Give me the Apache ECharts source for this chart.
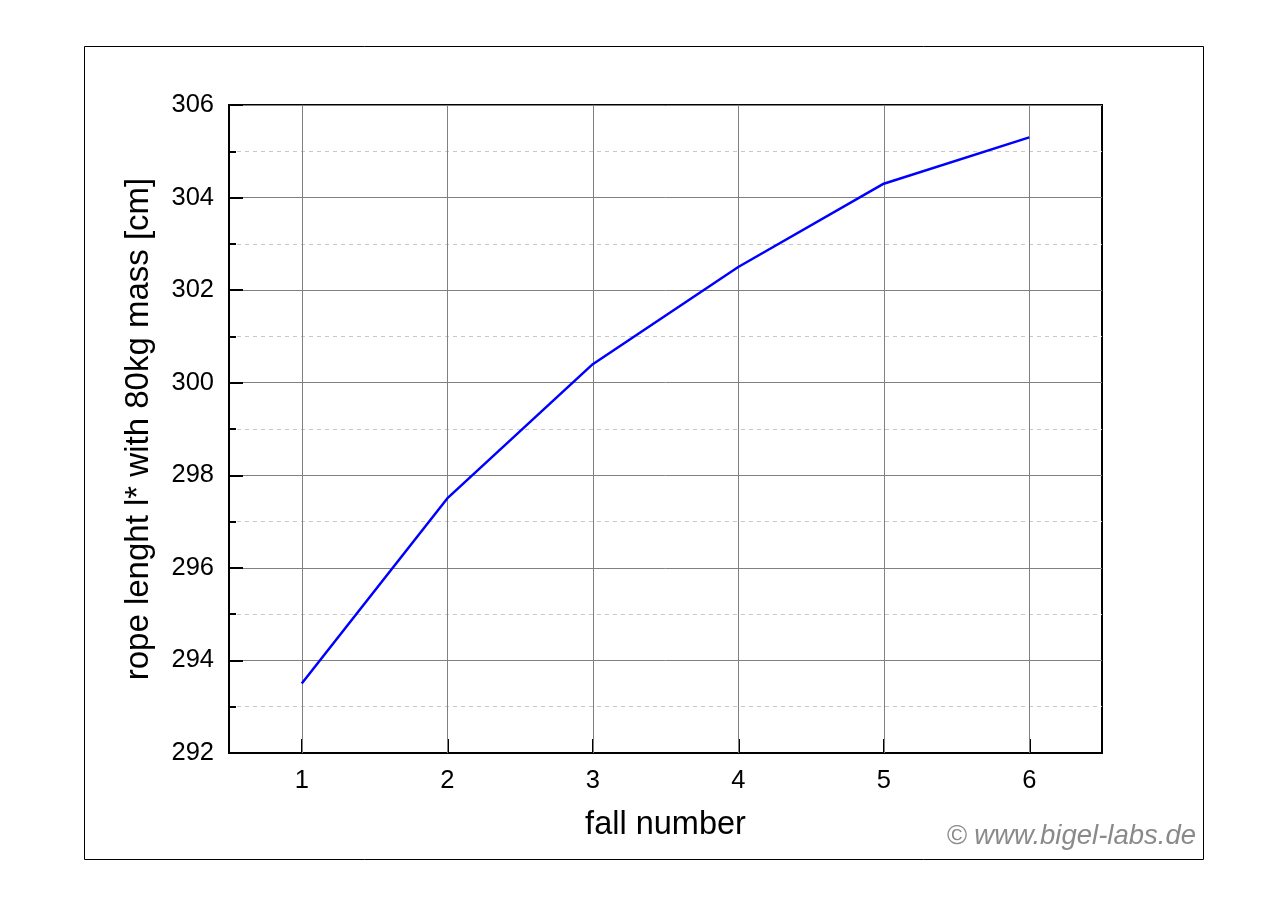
<!DOCTYPE html>
<html>
<head>
<meta charset="utf-8">
<script src="https://cdn.jsdelivr.net/npm/echarts@6/dist/echarts.min.js"></script>
<style>
html,body{margin:0;padding:0;background:#fff;}
#chart{width:1280px;height:904px;}
</style>
</head>
<body>
<div id="chart"></div>
<script>
const fallNumbers = [1, 2, 3, 4, 5, 6];
const ropeLength = [293.5, 297.5, 300.4, 302.5, 304.3, 305.3];
const yTicks = [292, 294, 296, 298, 300, 302, 304, 306];

const FONT = '"Liberation Sans", Arial, sans-serif';
const chart = echarts.init(document.getElementById('chart'), null, {renderer: 'canvas'});

const option = {
  backgroundColor: '#ffffff',
  animation: false,
  graphic: [
    {
      type: 'rect',
      shape: {x: 84.5, y: 46.5, width: 1119, height: 813},
      style: {fill: 'none', stroke: '#000', lineWidth: 1},
      z: -1
    },
    {
      type: 'text',
      right: 1280 - 1196,
      top: 823,
      style: {
        text: '© www.bigel-labs.de',
        font: 'italic 27.5px ' + FONT,
        fill: '#8a8a8a'
      }
    }
  ],
  grid: {
    left: 229, right: 178, top: 105, bottom: 151,
    show: true, borderColor: '#000', borderWidth: 2, backgroundColor: 'transparent'
  },
  xAxis: {
    type: 'value',
    min: 0.5, max: 6.5,
    name: 'fall number',
    nameLocation: 'middle',
    nameGap: 56,
    nameTextStyle: {fontFamily: FONT, fontSize: 32.5, color: '#000'},
    axisLine: {show: true, lineStyle: {color: '#000', width: 2}},
    axisTick: {show: true, inside: true, length: 14, customValues: fallNumbers, lineStyle: {color: '#000', width: 2}},
    axisLabel: {customValues: fallNumbers, fontFamily: FONT, fontSize: 25.5, color: '#000', margin: 15},
    splitLine: {show: false}
  },
  yAxis: {
    type: 'value',
    min: yTicks[0], max: yTicks[yTicks.length - 1], interval: 2,
    name: 'rope lenght l* with 80kg mass [cm]',
    nameLocation: 'middle',
    nameGap: 74,
    nameTextStyle: {fontFamily: FONT, fontSize: 33, color: '#000'},
    axisLine: {show: true, lineStyle: {color: '#000', width: 2}},
    axisTick: {show: true, inside: true, length: 14, lineStyle: {color: '#000', width: 2}},
    minorTick: {show: true, splitNumber: 2, length: 7, lineStyle: {color: '#000', width: 2}},
    axisLabel: {fontFamily: FONT, fontSize: 25.5, color: '#000', margin: 15},
    splitLine: {show: true, lineStyle: {color: '#808080', width: 1}},
    minorSplitLine: {show: true, lineStyle: {color: '#c8c8c8', width: 1, type: [4, 4]}}
  },
  series: [{
    type: 'line',
    data: fallNumbers.map((x, i) => [x, ropeLength[i]]),
    showSymbol: false,
    symbol: 'none',
    lineStyle: {color: '#0000ff', width: 2.5},
    z: 5,
    markLine: {
      silent: true,
      symbol: ['none', 'none'],
      label: {show: false},
      lineStyle: {color: '#808080', width: 1, type: 'solid'},
      data: fallNumbers.map(v => ({xAxis: v})),
      z: 1
    }
  }]
};
chart.setOption(option);
</script>
</body>
</html>
